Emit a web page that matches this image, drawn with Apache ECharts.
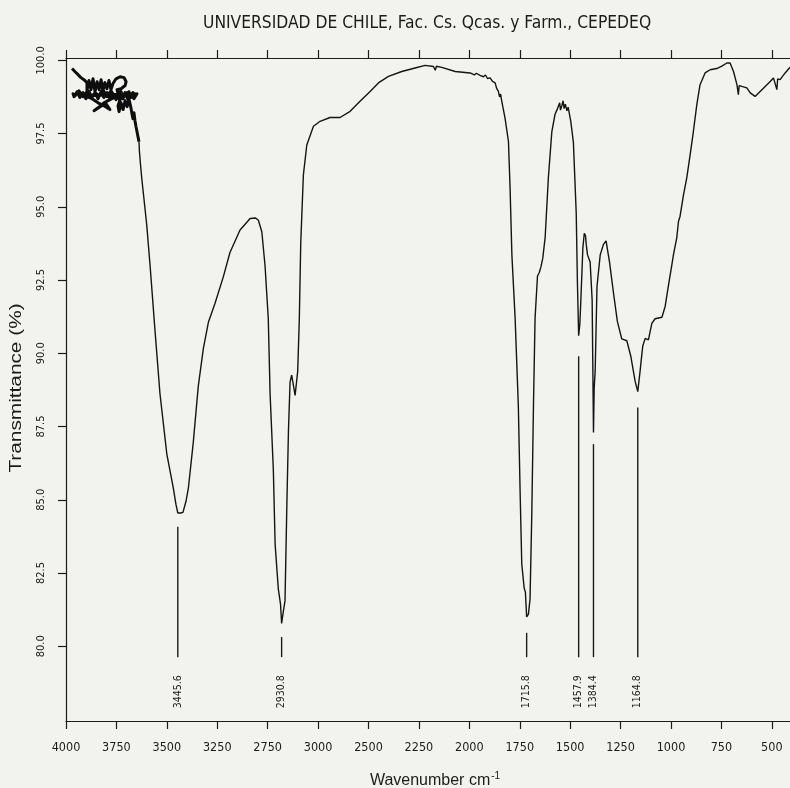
<!DOCTYPE html>
<html>
<head>
<meta charset="utf-8">
<title>IR spectrum</title>
<script src="https://cdn.jsdelivr.net/npm/echarts@6/dist/echarts.min.js"></script>
<style>
  html, body { margin: 0; padding: 0; background: #f2f2ef; }
  #chart { width: 790px; height: 788px; }
</style>
</head>
<body>
<div id="chart"></div>
<script>
// Noisy start of the scan (4000-3640 cm-1), a tangled trace drawn in recording order
const noiseWavenumber = [
  3970, 3955, 3940, 3926, 3911, 3896,
  3896, 3886, 3876, 3866, 3856, 3846, 3836, 3826, 3817, 3807, 3797, 3787, 3777, 3767,
  3752, 3732, 3712, 3702, 3707, 3727, 3747,
  3737, 3727, 3717, 3707, 3697, 3688, 3678, 3668, 3658, 3648,
  3663, 3678, 3692, 3707, 3722, 3737, 3752, 3767, 3782, 3797, 3812, 3826, 3841, 3856, 3871, 3886, 3901, 3916, 3931, 3945, 3960, 3965,
  3955, 3936, 3916, 3896, 3876, 3856, 3836, 3817, 3797, 3777, 3757, 3737, 3717, 3697, 3678, 3658,
  3906, 3871, 3841, 3812, 3782, 3802, 3831, 3861, 3841, 3812, 3782, 3752, 3732,
  3742, 3737, 3727, 3717, 3707, 3697, 3688, 3678, 3673, 3668, 3663, 3658, 3653, 3648, 3643, 3638
];
const noiseTransmittance = [
  99.72, 99.61, 99.51, 99.41, 99.34, 99.24,
  98.96, 99.31, 99.00, 99.37, 98.93, 99.27, 99.00, 99.34, 98.96, 99.24, 99.03, 99.31, 99.00, 99.21,
  99.37, 99.44, 99.41, 99.27, 99.14, 99.03, 99.00,
  98.73, 98.93, 98.69, 98.90, 98.76, 98.93, 98.73, 98.90, 98.76, 98.86,
  98.69, 98.83, 98.66, 98.86, 98.69, 98.90, 98.66, 98.86, 98.69, 98.90, 98.73, 98.93, 98.69, 98.90, 98.73, 98.93, 98.69, 98.90, 98.73, 98.93, 98.76, 98.86,
  98.79, 98.96, 98.76, 98.93, 98.73, 98.90, 98.79, 99.00, 98.76, 98.96, 98.73, 98.93, 98.79, 98.90, 98.76, 98.86,
  98.79, 98.69, 98.55, 98.45, 98.32, 98.52, 98.42, 98.28, 98.38, 98.55, 98.66, 98.76, 98.66,
  98.45, 98.25, 98.55, 98.32, 98.62, 98.42, 98.69, 98.38, 98.18, 98.01, 98.21, 97.94, 97.74, 97.57, 97.39, 97.22
];

// Main spectrum (cm-1, %T)
const wavenumber = [3638, 3636, 3630, 3624, 3600, 3583, 3559, 3534, 3500, 3468, 3455, 3445.6, 3432, 3420, 3405, 3393, 3369, 3344, 3319, 3294, 3261, 3220, 3187, 3137, 3087, 3060, 3046, 3029, 3013, 2997, 2988, 2972, 2963, 2947, 2936, 2930.8, 2922, 2914, 2905, 2897, 2889, 2881, 2872, 2864, 2851, 2843, 2836, 2823, 2806, 2773, 2740, 2691, 2641, 2591, 2542, 2492, 2451, 2401, 2335, 2269, 2219, 2178, 2169, 2163, 2137, 2070, 1996, 1975, 1965, 1947, 1930, 1920, 1910, 1897, 1885, 1872, 1865, 1856, 1850, 1845, 1839, 1823, 1806, 1798, 1789, 1773, 1757, 1748, 1740, 1728, 1722, 1715.8, 1707, 1699, 1690, 1682, 1674, 1662, 1653, 1645, 1636, 1624, 1608, 1591, 1575, 1566, 1558, 1552, 1548, 1541, 1535, 1530, 1524, 1516, 1510, 1497, 1484, 1470, 1464, 1457.9, 1452, 1447, 1437, 1430, 1424, 1420, 1414, 1401, 1391, 1388, 1384.4, 1381, 1376, 1367, 1351, 1335, 1322, 1305, 1285, 1266, 1244, 1219, 1199, 1178, 1164.8, 1153, 1145, 1140, 1128, 1120, 1112, 1095, 1079, 1070, 1045, 1029, 1013, 996, 988, 971, 963, 955, 938, 922, 905, 889, 872, 856, 831, 806, 773, 748, 723, 707, 690, 673, 666, 662, 649, 624, 607, 583, 558, 533, 508, 492, 475, 471, 459, 434, 413, 400];
const transmittance = [97.22, 96.90, 96.40, 95.95, 94.41, 92.99, 90.81, 88.62, 86.56, 85.41, 84.85, 84.55, 84.55, 84.57, 84.95, 85.41, 86.95, 88.88, 90.16, 91.06, 91.71, 92.61, 93.44, 94.21, 94.60, 94.62, 94.54, 94.15, 92.99, 91.19, 88.62, 86.05, 83.48, 81.94, 81.42, 80.78, 81.20, 81.55, 84.77, 87.33, 89.01, 89.26, 88.90, 88.56, 89.39, 91.19, 93.76, 96.08, 97.11, 97.75, 97.92, 98.05, 98.05, 98.26, 98.60, 98.94, 99.23, 99.45, 99.62, 99.74, 99.83, 99.79, 99.66, 99.80, 99.76, 99.62, 99.57, 99.50, 99.56, 99.49, 99.44, 99.50, 99.38, 99.40, 99.28, 99.23, 99.05, 98.94, 98.75, 98.85, 98.60, 98.03, 97.23, 95.64, 93.36, 91.21, 88.21, 85.21, 82.81, 81.98, 81.85, 81.00, 81.10, 81.61, 84.61, 88.21, 91.21, 92.64, 92.76, 92.95, 93.24, 93.96, 96.00, 97.56, 98.16, 98.30, 98.34, 98.55, 98.30, 98.46, 98.62, 98.35, 98.50, 98.28, 98.40, 97.92, 97.20, 94.80, 92.40, 90.60, 91.00, 91.81, 93.60, 94.10, 94.02, 93.70, 93.36, 93.12, 91.81, 89.80, 87.30, 88.80, 89.40, 92.28, 93.36, 93.72, 93.84, 93.12, 92.05, 91.09, 90.49, 90.43, 89.89, 89.05, 88.69, 89.41, 89.94, 90.25, 90.51, 90.49, 90.46, 91.02, 91.18, 91.15, 91.23, 91.60, 92.30, 93.01, 93.36, 93.96, 94.50, 94.68, 95.41, 95.98, 96.78, 97.57, 98.49, 99.17, 99.57, 99.68, 99.72, 99.80, 99.91, 99.91, 99.62, 99.17, 98.83, 99.14, 99.11, 99.06, 98.89, 98.77, 98.94, 99.11, 99.28, 99.40, 99.00, 99.37, 99.34, 99.57, 99.74, 99.80];

// Picked peaks and where each marker line starts (%T)
const peakWavenumbers = [3445.6, 2930.8, 1715.8, 1457.9, 1384.4, 1164.8];
const peakMarkerTop = [84.08, 80.32, 80.46, 89.90, 86.90, 88.15];
const peakMarkerBottom = 79.63;
const peakLabelCenter = 78.45;

// Axis ticks
const xTickValues = [4000, 3750, 3500, 3250, 3000, 2750, 2500, 2250, 2000, 1750, 1500, 1250, 1000, 750, 500];
const xTickLabels = ['4000', '3750', '3500', '3250', '2750', '3000', '2500', '2250', '2000', '1750', '1500', '1250', '1000', '750', '500'];
const yTickValues = [80, 82.5, 85, 87.5, 90, 92.5, 95, 97.5, 100];

const NARROW = "'DejaVu Sans Condensed', 'Liberation Sans Narrow', 'Arial Narrow', sans-serif";
const SANS = "'Liberation Sans', Arial, sans-serif";
const INK = '#1b1b1b';

const noiseTrace = noiseWavenumber.map((w, i) => [w, noiseTransmittance[i]]);
const spectrum = wavenumber.map((w, i) => [w, transmittance[i]]);
const peaks = peakWavenumbers.map((w, i) => [w, peakMarkerTop[i]]);

const chart = echarts.init(document.getElementById('chart'), null, { renderer: 'canvas' });

const xAxisBase = {
  type: 'value',
  min: 400,
  max: 4000,
  inverse: true,
  splitLine: { show: false },
  axisLine: { show: true, onZero: false, lineStyle: { color: INK, width: 1.2 } },
  axisTick: { show: true, inside: false, length: 8, customValues: xTickValues, lineStyle: { color: INK, width: 1.2 } }
};

chart.setOption({
  animation: false,
  backgroundColor: '#f2f2ef',
  title: {
    text: 'UNIVERSIDAD DE CHILE, Fac. Cs. Qcas. y Farm., CEPEDEQ',
    left: 198,
    top: 10,
    textStyle: { fontFamily: NARROW, fontSize: 17.3, fontWeight: 'normal', color: INK }
  },
  grid: { left: 66, right: -2, top: 58, bottom: 67, containLabel: false, outerBoundsMode: 'none' },
  xAxis: [
    Object.assign({}, xAxisBase, {
      position: 'bottom',
      name: 'Wavenumber cm{sup|-1}',
      nameLocation: 'middle',
      nameGap: 50,
      nameTextStyle: {
        fontFamily: SANS, fontSize: 16, color: INK, padding: [0, 0, 0, 12],
        rich: { sup: { fontFamily: SANS, fontSize: 10, color: INK, padding: [0, 0, 10, 1] } }
      },
      axisLabel: {
        show: true,
        margin: 20,
        customValues: xTickValues,
        fontFamily: NARROW,
        fontSize: 12.5,
        color: INK,
        formatter: (v) => xTickLabels[xTickValues.indexOf(v)]
      }
    }),
    Object.assign({}, xAxisBase, {
      position: 'top',
      axisLabel: { show: false }
    })
  ],
  yAxis: {
    type: 'value',
    min: 77.45,
    max: 100.08,
    splitLine: { show: false },
    axisLine: { show: true, onZero: false, lineStyle: { color: INK, width: 1.2 } },
    axisTick: { show: true, length: 8, customValues: yTickValues, lineStyle: { color: INK, width: 1.2 } },
    axisLabel: {
      customValues: yTickValues,
      rotate: 90,
      margin: 19,
      fontFamily: NARROW,
      fontSize: 11,
      color: INK,
      formatter: (v) => v.toFixed(1)
    }
  },
  graphic: [{
    type: 'text',
    x: 17,
    y: 388,
    rotation: Math.PI / 2,
    scaleX: 1.3,
    style: {
      text: 'Transmittance (%)',
      font: '16px ' + SANS,
      fill: INK,
      align: 'center',
      verticalAlign: 'middle'
    }
  }],
  series: [
    {
      // tangled noise at the start of the scan
      type: 'line',
      data: noiseTrace,
      showSymbol: false,
      clip: true,
      lineStyle: { color: '#0e0e0e', width: 3, join: 'round' },
      z: 3
    },
    {
      type: 'line',
      data: spectrum,
      showSymbol: false,
      smooth: false,
      clip: true,
      lineStyle: { color: '#141414', width: 1.4 },
      z: 3
    },
    {
      type: 'custom',
      data: peaks,
      renderItem: (params, api) => {
        const wn = api.value(0);
        const top = api.coord([wn, api.value(1)]);
        const bottom = api.coord([wn, peakMarkerBottom]);
        const label = api.coord([wn, peakLabelCenter]);
        return {
          type: 'group',
          children: [
            {
              type: 'line',
              shape: { x1: top[0], y1: top[1], x2: bottom[0], y2: bottom[1] },
              style: { stroke: INK, lineWidth: 1.4 }
            },
            {
              type: 'text',
              x: label[0],
              y: label[1],
              rotation: Math.PI / 2,
              style: {
                text: wn.toFixed(1),
                font: '10.5px ' + NARROW,
                fill: INK,
                align: 'center',
                verticalAlign: 'middle'
              }
            }
          ]
        };
      },
      z: 4
    }
  ]
});
</script>
</body>
</html>
